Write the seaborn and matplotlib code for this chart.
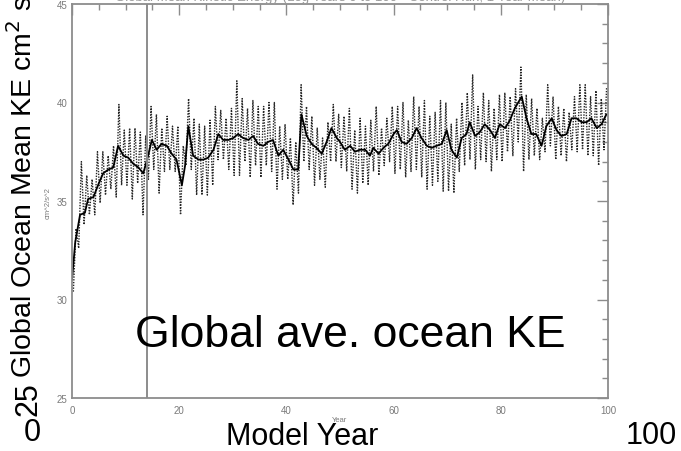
import numpy as np
import pandas as pd
import matplotlib
matplotlib.use("Agg")
import matplotlib.pyplot as plt
from matplotlib.ticker import MultipleLocator
import seaborn as sns

# ------------------------------------------------------
# data
# ------------------------------------------------------
# smoothed (annual) global mean KE, cm^2/s^2
mean_year = [0.0, 0.6, 1.5, 2.4, 3.0, 4.0, 5.0, 5.8, 6.8, 7.7, 8.6, 9.6, 10.5, 11.4,
             12.4, 13.3, 14.2, 14.9, 15.8, 16.7, 17.7, 18.6, 19.5, 20.5, 21.1, 21.7,
             22.6, 23.6, 24.5, 25.4, 26.4, 27.3, 28.2, 29.2, 30.1, 31.0, 31.9, 32.9,
             33.8, 34.7, 35.7, 36.6, 37.5, 38.5, 39.4, 40.4, 41.3, 42.2, 42.8, 43.8,
             44.7, 45.6, 46.6, 47.5, 48.4, 49.4, 50.0, 50.9, 51.9, 52.8, 53.7, 54.7,
             55.6, 56.2, 57.2, 58.1, 59.0, 60.0, 60.6, 61.5, 62.4, 63.4, 64.3, 65.2,
             66.2, 67.1, 68.0, 69.0, 69.9, 70.8, 71.8, 72.7, 73.6, 74.2, 75.2, 76.1,
             77.0, 78.0, 78.9, 79.8, 80.8, 81.7, 82.6, 83.9, 84.8, 85.7, 86.6, 87.6,
             88.5, 89.5, 90.4, 91.3, 92.3, 93.2, 94.1, 95.1, 96.0, 96.9, 97.9, 98.8,
             99.7]
mean_ke = [31.0, 32.9, 34.3, 34.4, 35.1, 35.2, 35.9, 36.4, 36.6, 36.7, 37.8, 37.3, 37.2,
           36.9, 36.7, 36.4, 37.3, 38.1, 37.6, 37.9, 37.8, 37.4, 37.1, 35.8, 36.8, 38.8,
           37.3, 37.1, 37.1, 37.2, 37.6, 38.4, 38.1, 38.1, 38.2, 38.4, 38.2, 38.1, 38.3,
           37.9, 37.8, 38.0, 38.1, 37.3, 37.6, 37.1, 36.6, 36.6, 39.4, 38.3, 37.9, 37.7,
           37.4, 38.0, 38.7, 38.2, 38.0, 37.6, 37.8, 37.5, 37.6, 37.6, 37.3, 37.7, 37.4,
           37.7, 37.9, 38.4, 38.6, 38.0, 37.9, 38.2, 38.7, 38.2, 37.8, 37.7, 37.8, 37.9,
           38.6, 37.6, 37.2, 38.2, 38.4, 39.0, 38.3, 38.5, 38.9, 38.6, 38.2, 38.9, 38.7,
           39.1, 39.7, 40.3, 39.2, 38.4, 38.4, 37.8, 38.8, 39.2, 38.6, 38.3, 38.4, 39.2,
           39.2, 39.0, 39.0, 39.2, 38.7, 38.9, 39.4]

# spread of the monthly values inside each model year (top / bottom of the dots)
years = list(range(100))
monthly_high = [33.6, 37.0, 36.3, 36.1, 37.5, 37.5, 37.3, 37.8, 39.9, 38.6,
                38.7, 38.7, 38.5, 38.3, 39.8, 39.4, 38.7, 39.3, 38.8, 38.8,
                37.8, 40.2, 39.2, 38.9, 38.8, 39.1, 39.8, 39.6, 39.2, 39.7,
                41.1, 40.2, 39.7, 40.1, 39.8, 39.8, 40.0, 40.0, 38.8, 38.9,
                38.2, 38.0, 40.9, 39.8, 39.3, 38.7, 38.2, 39.0, 39.9, 39.4,
                39.3, 39.7, 38.6, 39.2, 38.8, 39.1, 39.8, 38.7, 39.2, 39.8,
                39.8, 40.0, 39.1, 40.3, 39.8, 40.1, 39.3, 39.5, 40.1, 40.0,
                38.9, 39.2, 40.0, 40.5, 41.4, 39.8, 40.5, 40.1, 39.7, 40.4,
                40.5, 40.3, 40.7, 41.8, 40.4, 40.2, 39.7, 39.2, 40.9, 40.3,
                39.8, 39.7, 39.5, 40.3, 40.9, 40.9, 40.3, 40.6, 40.2, 40.8]
monthly_low = [30.4, 32.6, 33.8, 34.3, 34.3, 34.9, 35.3, 35.6, 35.2, 35.8,
               35.8, 35.1, 35.9, 34.3, 36.1, 36.6, 35.4, 36.5, 36.6, 36.5,
               34.3, 36.8, 36.6, 35.3, 35.3, 35.3, 35.8, 37.1, 37.1, 36.6,
               36.3, 36.3, 37.0, 36.2, 36.8, 36.2, 36.8, 36.5, 35.6, 36.1,
               36.1, 34.8, 35.4, 37.0, 36.6, 35.8, 36.1, 35.7, 37.0, 37.0,
               36.7, 36.5, 35.6, 35.4, 35.9, 35.8, 36.5, 36.3, 36.8, 37.0,
               36.4, 36.6, 36.2, 36.5, 36.6, 36.2, 35.6, 35.8, 36.0, 35.5,
               35.5, 35.4, 36.5, 36.8, 37.1, 36.6, 37.1, 37.0, 36.5, 37.1,
               37.0, 37.5, 37.3, 38.0, 36.5, 37.1, 37.3, 37.1, 37.5, 37.8,
               37.1, 37.3, 37.0, 37.6, 37.5, 37.6, 37.3, 37.3, 36.8, 37.6]

spinup_year = 14

# ------------------------------------------------------
# figure
# ------------------------------------------------------
sns.set_style("white")
plt.rcParams["font.family"] = ["Liberation Sans", "DejaVu Sans"]

grey = "#8c8c8c"
fig = plt.figure(figsize=(6.81, 4.52), dpi=100)
ax = fig.add_axes([72 / 681, 1 - 399 / 452, 536 / 681, 394 / 452])

# monthly values: a dotted zig-zag between the low and high of every year
zig = pd.DataFrame({
    "x": np.ravel(np.column_stack([np.array(years) + 0.25, np.array(years) + 0.75])),
    "y": np.ravel(np.column_stack([monthly_low, monthly_high])),
})
ax.plot(zig["x"], zig["y"], ls=(0, (1, 1)), lw=1.0, color="black", alpha=0.85)

# annual mean
df = pd.DataFrame({"year": mean_year, "ke": mean_ke})
sns.lineplot(data=df, x="year", y="ke", ax=ax, color="black", lw=1.3, sort=False)

ax.axvline(spinup_year, color=grey, lw=1.4)

ax.set_xlim(0, 100)
ax.set_ylim(25, 45)
ax.xaxis.set_major_locator(MultipleLocator(20))
ax.xaxis.set_minor_locator(MultipleLocator(5))
ax.yaxis.set_major_locator(MultipleLocator(5))
ax.yaxis.set_minor_locator(MultipleLocator(1))
ax.tick_params(which="both", direction="in", top=True, right=True, color=grey,
               labelcolor="#7a7a7a", labelsize=7, width=1)
ax.tick_params(which="major", length=8)
ax.tick_params(which="minor", length=4)
ax.tick_params(axis="x", pad=5)
for s in ax.spines.values():
    s.set_color(grey)
    s.set_linewidth(1.3)

# small IDL style axis titles
ax.set_xlabel("Year", fontsize=5.5, color="#7a7a7a", labelpad=1)
ax.set_ylabel("")
fig.text(48 / 681, 1 - 203 / 452, "cm^2/s^2", rotation=90, fontsize=5.5,
         color="#7a7a7a", ha="center", va="center")

# title, mostly cut off at the top of the picture
fig.text(0.5, 1 - 1 / 452,
         "Global Mean Kinetic Energy (Log Years 0 to 100 - Control Run, 1 Year Mean)",
         fontsize=9.5, color="#9a9a9a", ha="center", va="baseline")

# large annotation labels
big = 22
fig.text(38 / 681, 1 - 378 / 452, "Global Ocean Mean KE cm$^2$ s$^{-2}$", rotation=90,
         fontsize=20.5, color="black", ha="right", va="bottom")
fig.text(32 / 681, 1 - 433 / 452, "0", fontsize=big, color="black", ha="center",
         va="center")
fig.text(28 / 681, 1 - 399 / 452, "25", rotation=90, fontsize=big, color="black",
         ha="center", va="center")
fig.text(302 / 681, 1 - 445 / 452, "Model Year", fontsize=big, color="black",
         ha="center", va="baseline")
fig.text(651 / 681, 1 - 444 / 452, "100", fontsize=big, color="black", ha="center",
         va="baseline")
fig.text(135 / 681, 1 - 347 / 452, "Global ave. ocean KE", fontsize=32, color="black",
         ha="left", va="baseline")

fig.savefig("out.png", dpi=100)
